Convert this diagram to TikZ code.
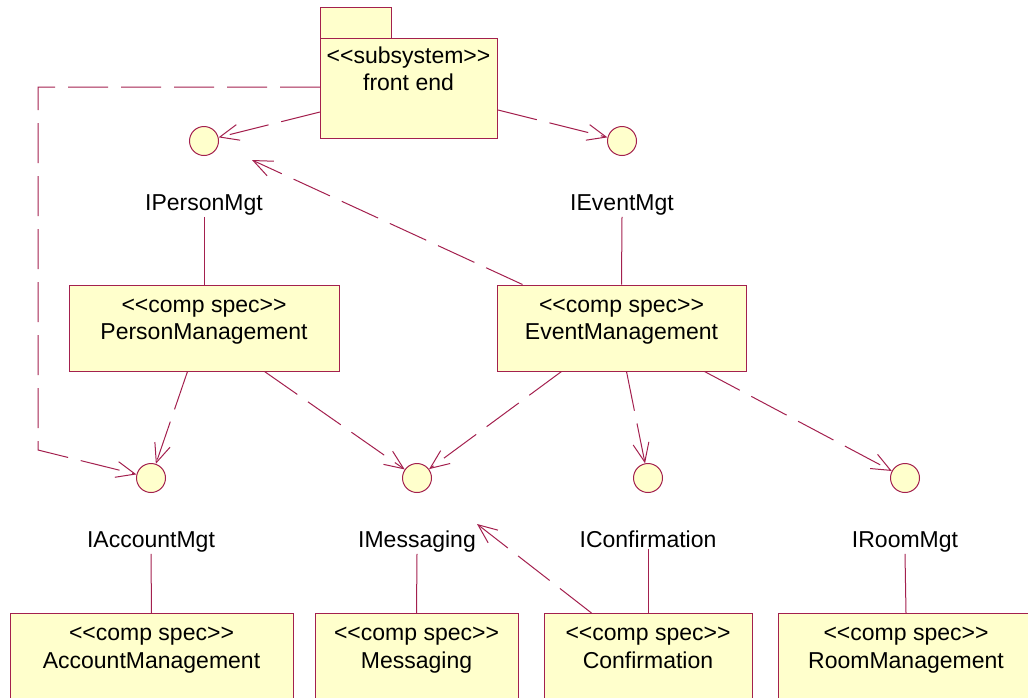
\documentclass[tikz,border=0pt]{standalone}
\usepackage{fontspec}
\setmainfont{Liberation Sans}
\usetikzlibrary{arrows.meta,calc}
\definecolor{umlline}{RGB}{163,32,78}
\definecolor{umlfill}{RGB}{255,255,204}
\newcommand{\stereo}[1]{<\kern0pt<#1>\kern0pt>}
\begin{document}
\begin{tikzpicture}[x=1pt,y=-1pt,
  font=\fontsize{23}{27}\selectfont,
  box/.style={draw=umlline, fill=umlfill, line width=1pt, inner sep=0pt},
  iface/.style={circle, draw=umlline, fill=umlfill, line width=1pt, minimum size=29pt, inner sep=0pt},
  lbl/.style={inner sep=2pt, anchor=base},
  dep/.style={draw=umlline, line width=1pt, dash pattern=on 40pt off 13pt, -{Straight Barb[length=19pt,width=16pt]}},
  link/.style={draw=umlline, line width=1pt}]
\useasboundingbox (0,0) rectangle (1028,697);
\clip (0,0) rectangle (1028,697);

% package
\node[box, minimum width=71pt, minimum height=31pt, anchor=north west] (tab) at (320,7) {};
\node[box, minimum width=177pt, minimum height=100pt, anchor=north west] (fe) at (320,38) {};
\node[lbl] (fe1) at (408.5,63) {\stereo{subsystem}};
\node[lbl] (fe2) at (408.5,90) {front end};

% interfaces
\node[iface] (ipm) at (204,141) {};
\node[iface] (iem) at (622,141) {};
\node[iface] (iam) at (151,478) {};
\node[iface] (imsg) at (417,478) {};
\node[iface] (icf) at (648,478) {};
\node[iface] (irm) at (905,478) {};

\node[lbl] (lpm) at (204,210) {IPersonMgt};
\node[lbl] (lem) at (622,210) {IEventMgt};
\node[lbl] (lam) at (151,547) {IAccountMgt};
\node[lbl] (lmsg) at (417,547) {IMessaging};
\node[lbl] (lcf) at (648,547) {IConfirmation};
\node[lbl] (lrm) at (905,547) {IRoomMgt};

% component boxes
\node[box, minimum width=270pt, minimum height=86pt] (pm) at (204,328) {};
\node[lbl] (pm1) at (204,312) {\stereo{comp spec}};
\node[lbl] (pm2) at (204,339) {PersonManagement};

\node[box, minimum width=249pt, minimum height=86pt] (em) at (621.5,328) {};
\node[lbl] (em1) at (621.5,312) {\stereo{comp spec}};
\node[lbl] (em2) at (621.5,339) {EventManagement};

\node[box, minimum width=283pt, minimum height=100pt, anchor=north] (am) at (151.5,613) {};
\node[lbl] (am1) at (151.5,640) {\stereo{comp spec}};
\node[lbl] (am2) at (151.5,668) {AccountManagement};

\node[box, minimum width=203pt, minimum height=100pt, anchor=north] (msg) at (416.5,613) {};
\node[lbl] (msg1) at (416.5,640) {\stereo{comp spec}};
\node[lbl] (msg2) at (416.5,668) {Messaging};

\node[box, minimum width=208pt, minimum height=100pt, anchor=north] (cf) at (648,613) {};
\node[lbl] (cf1) at (648,640) {\stereo{comp spec}};
\node[lbl] (cf2) at (648,668) {Confirmation};

\node[box, minimum width=256pt, minimum height=100pt, anchor=north] (rm) at (906,613) {};
\node[lbl] (rm1) at (906,640) {\stereo{comp spec}};
\node[lbl] (rm2) at (906,668) {RoomManagement};

% solid links
\draw[link] (lpm.south) -- (pm.north);
\draw[link] (lem.south) -- (em.north);
\draw[link] (lam.south) -- (am.north);
\draw[link] (lmsg.south) -- (msg.north);
\draw[link] (lcf.south) -- (cf.north);
\draw[link] (lrm.south) -- (rm.north);

% dependencies
\coordinate (c1) at (38,87);
\coordinate (c2) at (38,450);
\coordinate (t1) at (252,160);
\coordinate (t2) at (477,524);
\draw[dep] ($(fe.north west)+(0,74)$) -- (ipm);
\draw[dep] ($(fe.north east)+(0,72)$) -- (iem);
\draw[dep] ($(fe.north west)+(0,49)$) -- (c1) -- (c2) -- (iam);
\draw[dep] ($(em.north west)+(26,0)$) -- (t1);
\draw[dep] ($(pm.south west)+(119,0)$) -- (iam);
\draw[dep] ($(pm.south west)+(196,0)$) -- (imsg);
\draw[dep] ($(em.south west)+(65,0)$) -- (imsg);
\draw[dep] ($(em.south west)+(130,0)$) -- (icf);
\draw[dep] ($(em.south west)+(208,0)$) -- (irm);
\draw[dep] ($(cf.north west)+(48,0)$) -- (t2);
\end{tikzpicture}
\end{document}
